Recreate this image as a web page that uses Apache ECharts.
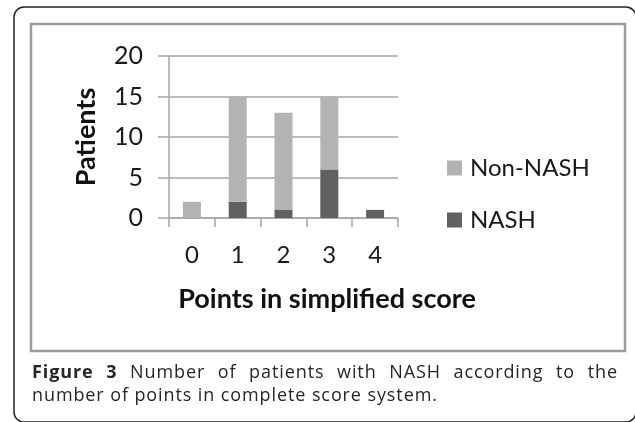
<!DOCTYPE html>
<html>
<head>
<meta charset="utf-8">
<script src="https://cdn.jsdelivr.net/npm/echarts@6/dist/echarts.min.js"></script>
<style>
  html, body { margin: 0; padding: 0; background: #fff; }
  #wrap { position: relative; width: 635px; height: 422px; overflow: hidden; }
  #chart { position: absolute; left: 0; top: 0; width: 635px; height: 422px; }
  .cap { position: absolute; left: 32px; width: 586px; font-family: "Open Sans", sans-serif; font-size: 18px; letter-spacing: 0.9px; color: #262626; line-height: 23px; white-space: nowrap; }
  #cap1 { top: 360px; text-align: justify; text-align-last: justify; white-space: normal; }
  #cap2 { top: 383px; }
  .cap b { font-weight: 700; }
</style>
</head>
<body>
<div id="wrap">
  <div id="chart"></div>
  <div class="cap" id="cap1"><b>Figure 3</b> Number of patients with NASH according to the</div>
  <div class="cap" id="cap2">number of points in complete score system.</div>
</div>
<script>
var categories = ['0', '1', '2', '3', '4'];
var nashValues = [0, 2, 1, 6, 1];
var nonNashValues = [2, 13, 12, 9, 0];
var seriesNames = ['Non-NASH', 'NASH'];
var yTitle = 'Patients';
var xTitle = 'Points in simplified score';

var chart = echarts.init(document.getElementById('chart'), null, { renderer: 'canvas' });
var gridColor = '#a6a6a6';
var font = 'Lato';

chart.setOption({
  animation: false,
  textStyle: { fontFamily: font },
  grid: { left: 169, right: 237, top: 56, bottom: 204, containLabel: false },
  legend: {
    data: [seriesNames[0], seriesNames[1]],
    orient: 'vertical',
    left: 442,
    top: 151,
    itemWidth: 15,
    itemHeight: 15,
    itemGap: 28,
    icon: 'rect',
    selectedMode: false,
    textStyle: { fontFamily: font, fontSize: 24, color: '#1a1a1a', padding: [0, 0, 0, 3] }
  },
  xAxis: {
    type: 'category',
    data: categories,
    axisLine: { show: true, lineStyle: { color: gridColor, width: 1.5 } },
    axisTick: { show: true, length: 9, alignWithLabel: false, lineStyle: { color: gridColor, width: 1.5 } },
    axisLabel: { margin: 25, fontSize: 24, color: '#1a1a1a', fontFamily: font },
    splitLine: { show: false }
  },
  yAxis: {
    type: 'value',
    min: 0,
    max: 20,
    interval: 5,
    axisLine: { show: true, lineStyle: { color: gridColor, width: 1.5 } },
    axisTick: { show: true, length: 11, lineStyle: { color: gridColor, width: 1.5 } },
    axisLabel: { margin: 26, fontSize: 25, color: '#1a1a1a', fontFamily: font },
    splitLine: { show: true, lineStyle: { color: gridColor, width: 1.5 } }
  },
  graphic: [
    {
      type: 'rect',
      shape: { x: 14, y: 7, width: 622, height: 415, r: 10 },
      style: { fill: 'none', stroke: '#222', lineWidth: 1.5 },
      silent: true
    },
    {
      type: 'rect',
      shape: { x: 31, y: 24, width: 594, height: 327 },
      style: { fill: 'none', stroke: '#9a9a9a', lineWidth: 2.5 },
      silent: true
    },
    {
      type: 'text',
      x: 86,
      y: 137,
      rotation: Math.PI / 2,
      style: {
        text: yTitle,
        fontFamily: font,
        fontWeight: 'bold',
        fontSize: 27,
        fill: '#111',
        align: 'center',
        verticalAlign: 'middle'
      },
      silent: true
    },
    {
      type: 'text',
      x: 327,
      y: 299,
      style: {
        text: xTitle,
        fontFamily: font,
        fontWeight: 'bold',
        fontSize: 27,
        fill: '#111',
        align: 'center',
        verticalAlign: 'middle'
      },
      silent: true
    }
  ],
  series: [
    {
      name: seriesNames[1],
      type: 'bar',
      stack: 'total',
      data: nashValues,
      barWidth: 18,
      itemStyle: { color: '#616161' }
    },
    {
      name: seriesNames[0],
      type: 'bar',
      stack: 'total',
      data: nonNashValues,
      barWidth: 18,
      itemStyle: { color: '#b3b3b3' }
    }
  ]
});
</script>
</body>
</html>
